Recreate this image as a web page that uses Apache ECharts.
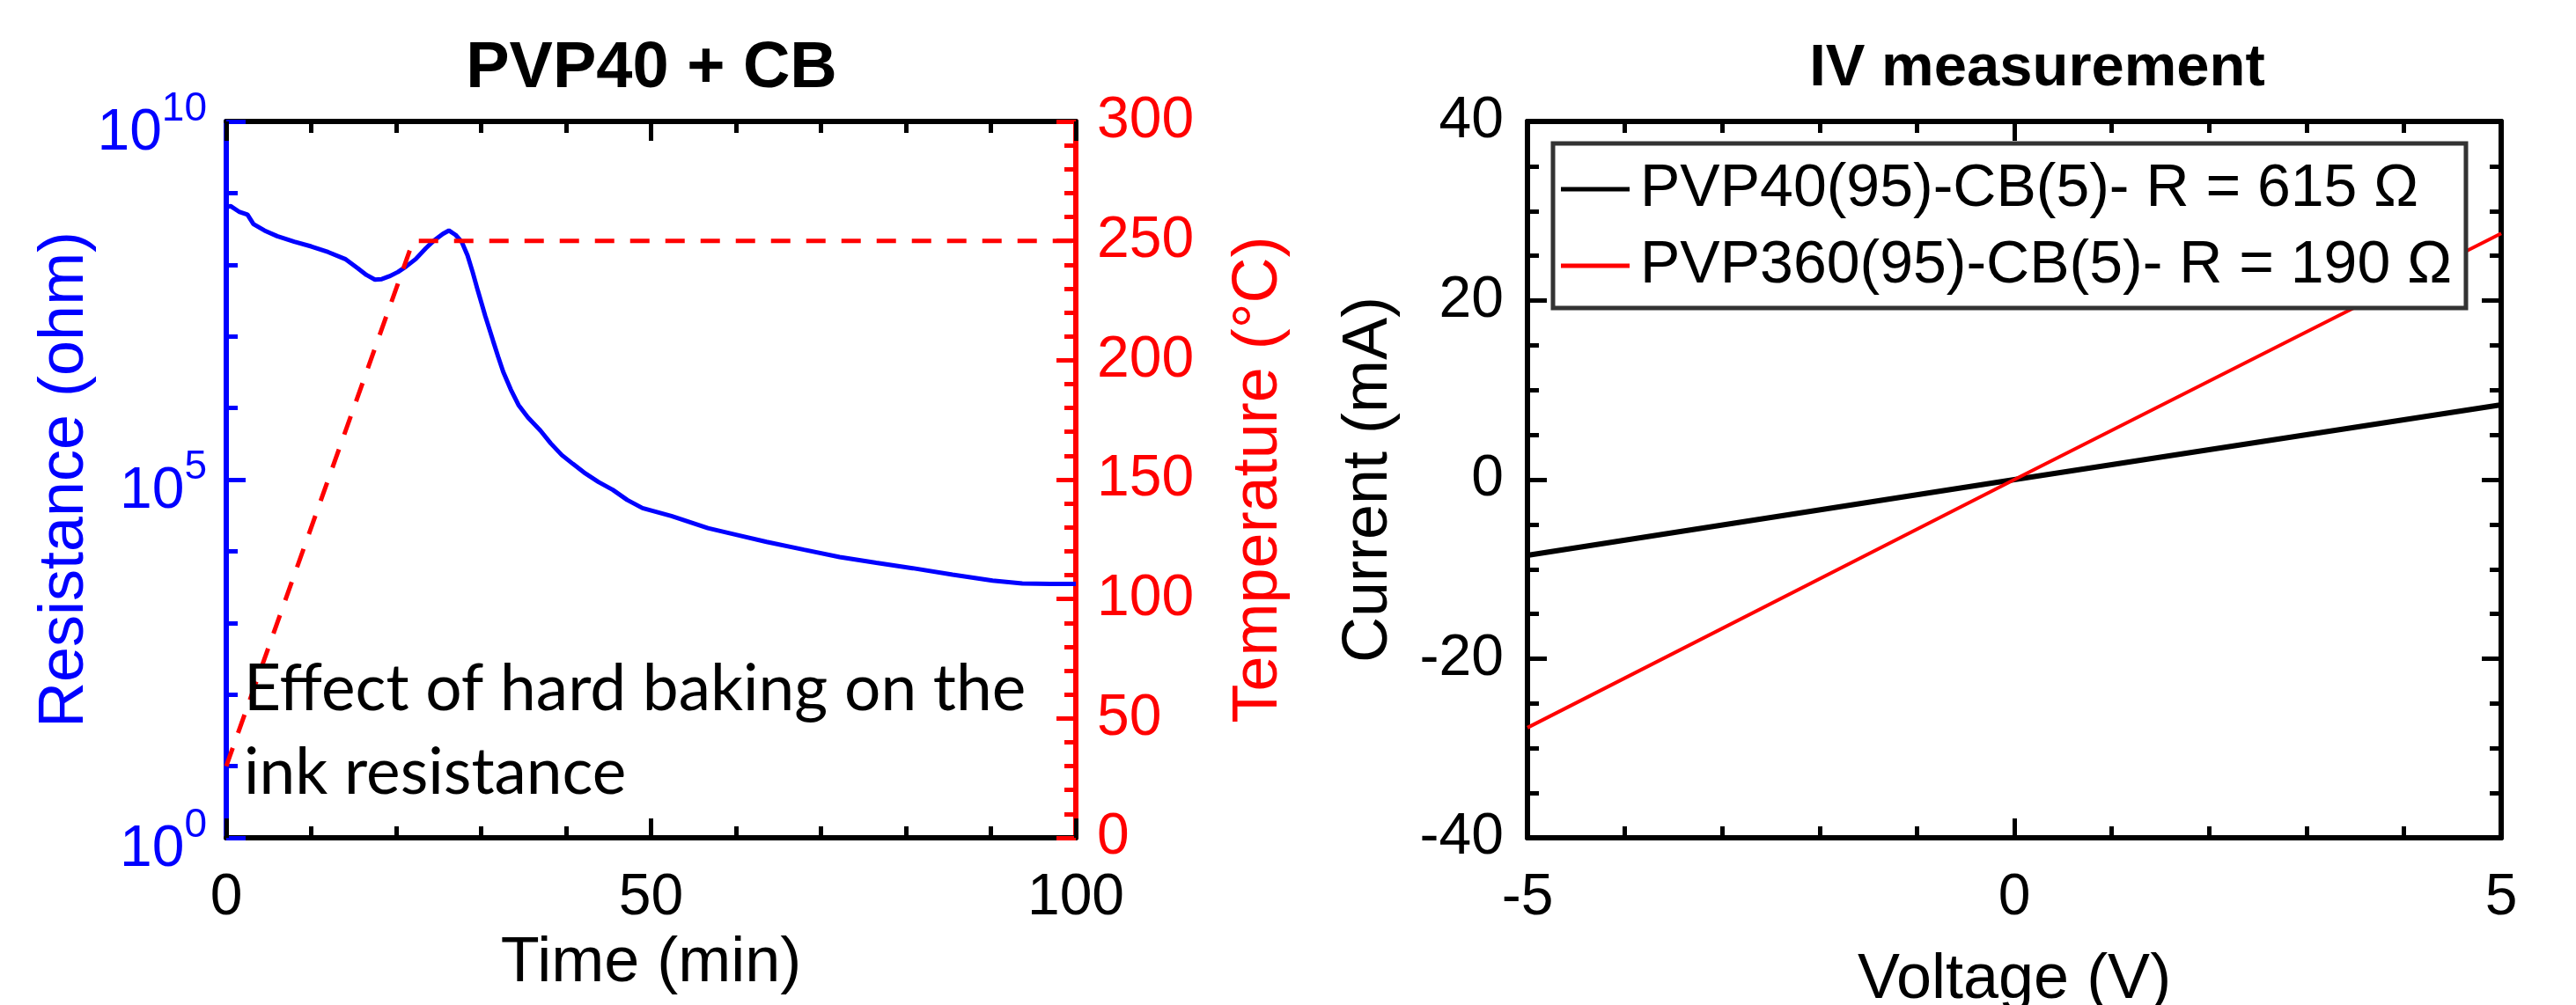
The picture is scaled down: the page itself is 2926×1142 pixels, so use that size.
<!DOCTYPE html>
<html>
<head>
<meta charset="utf-8">
<script src="https://cdn.jsdelivr.net/npm/echarts@6/dist/echarts.min.js"></script>
<style>
  html, body { margin: 0; padding: 0; background: #fff; }
  #chart { width: 2926px; height: 1142px; }
</style>
</head>
<body>
<div id="chart"></div>
<script>
// hard baking run: time (min) and measured resistance (ohm)
const bakeTime = [0, 0.5, 1.5, 2.5, 3.2, 4.5, 6, 8, 10, 12, 14, 15.5, 16.5, 17.5, 18.3, 19.2, 20.2, 21.2,
    22.3, 23.5, 24.5, 25.5, 26.2, 27, 27.7, 28.4, 29, 29.6, 30.5, 31.4, 32, 32.6, 33.5, 34.4, 35.5, 37,
    38.2, 39.5, 40.8, 42.1, 43.8, 45.5, 47.2, 49, 52.4, 56.7, 60, 63.6, 68, 72.2, 76.5, 80.8, 85.5, 90.2,
    93.7, 97, 100];
const bakeResistance = [6.3e8, 6.6e8, 5.5e8, 5.0e8, 3.7e8, 3.0e8, 2.5e8, 2.1e8, 1.8e8, 1.5e8, 1.2e8, 8.9e7,
    7.2e7, 6.2e7, 6.3e7, 6.9e7, 7.9e7, 9.5e7, 1.2e8, 1.7e8, 2.2e8, 2.7e8, 3.0e8, 2.6e8, 2.1e8, 1.35e8,
    7.9e7, 4.4e7, 1.9e7, 8.7e6, 5.2e6, 3.2e6, 1.8e6, 1.1e6, 7.4e5, 4.8e5, 3.2e5, 2.2e5, 1.66e5, 1.26e5,
    9.3e4, 7.2e4, 5.2e4, 4.0e4, 3.1e4, 2.1e4, 1.7e4, 1.35e4, 1.05e4, 8.3e3, 6.9e3, 5.8e3, 4.7e3, 3.9e3,
    3.55e3, 3.5e3, 3.5e3];

// oven temperature profile
const tempTime = [0, 22, 100];
const tempValue = [30, 250, 250];

// IV sweep
const ivVoltage = [-5, 0, 5];
const ivCurrentPVP40 = [-8.45, 0, 8.35];
const ivCurrentPVP360 = [-27.7, 0, 27.5];
const ivNames = ['PVP40(95)-CB(5)- R = 615 Ω', 'PVP360(95)-CB(5)- R = 190 Ω'];

const arial = 'Liberation Sans, Arial, sans-serif';
const blue = '#0000ff';
const red = '#ff0000';

function pairs(xs, ys) {
    return xs.map((x, i) => [x, ys[i]]);
}

function tickAxis(color, show) {
    return {
        axisLine: { show: true, onZero: false, lineStyle: { color: color, width: 6 } },
        axisTick: { show: show, inside: true, length: 22, lineStyle: { color: color, width: 5 } },
        minorTick: { show: show, length: 13, lineStyle: { color: color, width: 5 } },
        splitLine: { show: false },
        nameMoveOverlap: false
    };
}

let chart = echarts.init(document.getElementById('chart'));

let xAxes = [
    Object.assign(tickAxis('#000', true), {
        type: 'value', gridIndex: 0, position: 'bottom', min: 0, max: 100, interval: 50,
        name: 'Time (min)', nameLocation: 'middle', nameGap: 107,
        nameTextStyle: { fontFamily: arial, fontSize: 72, lineHeight: 72, color: '#000' },
        axisLabel: { margin: 36, fontFamily: arial, fontSize: 66, lineHeight: 66, color: '#000' }
    }),
    Object.assign(tickAxis('#000', true), {
        type: 'value', gridIndex: 0, position: 'top', min: 0, max: 100, interval: 50,
        axisLabel: { show: false }
    }),
    // the voltage name hangs off the bottom edge, so it is a graphic text below
    Object.assign(tickAxis('#000', true), {
        type: 'value', gridIndex: 1, position: 'bottom', min: -5, max: 5, interval: 5,
        axisLabel: { margin: 36, fontFamily: arial, fontSize: 66, lineHeight: 66, color: '#000' }
    }),
    Object.assign(tickAxis('#000', true), {
        type: 'value', gridIndex: 1, position: 'top', min: -5, max: 5, interval: 5,
        axisLabel: { show: false }
    })
];
xAxes.forEach(a => { a.minorTick.splitNumber = 5; });

let yAxes = [
    // log10 of resistance
    Object.assign(tickAxis(blue, true), {
        type: 'value', gridIndex: 0, position: 'left', min: 0, max: 10, interval: 5,
        name: 'Resistance (ohm)', nameLocation: 'middle', nameRotate: 90, nameGap: 147,
        nameTextStyle: { fontFamily: arial, fontSize: 72, lineHeight: 72, color: blue },
        axisLabel: {
            margin: 22,
            formatter: v => '{b|10}{e|' + v + '}',
            rich: {
                b: { fontFamily: arial, fontSize: 66, lineHeight: 66, padding: [28, 0, 0, 0], color: blue },
                e: { fontFamily: arial, fontSize: 46, lineHeight: 46, padding: [0, 0, 28, 0], color: blue }
            }
        }
    }),
    Object.assign(tickAxis(red, true), {
        type: 'value', gridIndex: 0, position: 'right', min: 0, max: 300, interval: 50,
        name: 'Temperature (°C)', nameLocation: 'middle', nameRotate: 90, nameGap: 172,
        nameTextStyle: { fontFamily: arial, fontSize: 72, lineHeight: 72, color: red },
        axisLabel: { margin: 24, fontFamily: arial, fontSize: 66, lineHeight: 66, color: red }
    }),
    Object.assign(tickAxis('#000', true), {
        type: 'value', gridIndex: 1, position: 'left', min: -40, max: 40, interval: 20,
        name: 'Current (mA)', nameLocation: 'middle', nameRotate: 90, nameGap: 144,
        nameTextStyle: { fontFamily: arial, fontSize: 72, lineHeight: 72, color: '#000' },
        axisLabel: { margin: 27, fontFamily: arial, fontSize: 66, lineHeight: 66, color: '#000' }
    }),
    Object.assign(tickAxis('#000', true), {
        type: 'value', gridIndex: 1, position: 'right', min: -40, max: 40, interval: 20,
        axisLabel: { show: false }
    })
];
yAxes[0].minorTick.splitNumber = 5;
yAxes[1].minorTick.splitNumber = 5;
yAxes[2].minorTick.splitNumber = 4;
yAxes[3].minorTick.splitNumber = 4;

let option = {
    animation: false,
    backgroundColor: '#fff',
    title: [
        {
            text: 'PVP40 + CB', left: 740, top: 42, textAlign: 'center', padding: 0,
            textStyle: { fontFamily: arial, fontSize: 74, lineHeight: 74, fontWeight: 'bold', color: '#000' }
        },
        {
            text: 'IV measurement', left: 2314, top: 45, textAlign: 'center', padding: 0,
            textStyle: { fontFamily: arial, fontSize: 67, lineHeight: 67, fontWeight: 'bold', color: '#000' }
        }
    ],
    grid: [
        { left: 257, right: 1704, top: 138, bottom: 190, containLabel: false },
        { left: 1735, right: 85, top: 138, bottom: 190, containLabel: false }
    ],
    legend: {
        data: ivNames,
        orient: 'vertical',
        left: 1764,
        top: 163,
        icon: 'rect',
        itemWidth: 78,
        itemHeight: 5,
        itemGap: 11,
        padding: [14, 16, 10, 9],
        backgroundColor: '#fff',
        borderColor: '#333',
        borderWidth: 5,
        borderRadius: 0,
        textStyle: { fontFamily: arial, fontSize: 68, lineHeight: 76, color: '#000', padding: [0, 0, 0, 7] }
    },
    xAxis: xAxes,
    yAxis: yAxes,
    graphic: [
        {
            type: 'text', left: 277, top: 736, z: 100,
            style: {
                text: 'Effect of hard baking on the\nink resistance',
                fontFamily: 'Lato', fontSize: 73, lineHeight: 95, fill: '#000'
            }
        },
        {
            type: 'text', x: 2288, y: 1078, z: 100,
            style: {
                text: 'Voltage (V)',
                fontFamily: arial, fontSize: 72, lineHeight: 72, fill: '#000',
                align: 'center', verticalAlign: 'top'
            }
        }
    ],
    series: [
        {
            name: 'Resistance', type: 'line', xAxisIndex: 0, yAxisIndex: 0,
            data: bakeTime.map((t, i) => [t, Math.log10(bakeResistance[i])]),
            symbol: 'none', color: blue,
            lineStyle: { color: blue, width: 5 }
        },
        {
            name: 'Temperature', type: 'line', xAxisIndex: 0, yAxisIndex: 1,
            data: pairs(tempTime, tempValue),
            symbol: 'none', color: red,
            lineStyle: { color: red, width: 5, type: [22, 18] }
        },
        {
            name: ivNames[0], type: 'line', xAxisIndex: 2, yAxisIndex: 2,
            data: pairs(ivVoltage, ivCurrentPVP40),
            symbol: 'none', color: '#000',
            lineStyle: { color: '#000', width: 6 }
        },
        {
            name: ivNames[1], type: 'line', xAxisIndex: 2, yAxisIndex: 2,
            data: pairs(ivVoltage, ivCurrentPVP360),
            symbol: 'none', color: red,
            lineStyle: { color: red, width: 4 }
        }
    ]
};

chart.setOption(option);
</script>
</body>
</html>
